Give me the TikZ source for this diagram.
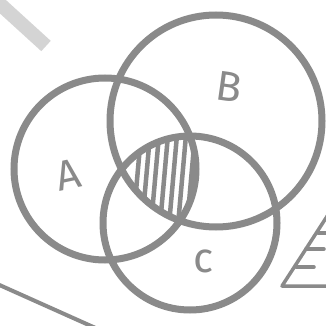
\documentclass[tikz,border=0pt]{standalone}
\usepackage{fontspec}
\setmainfont{Fira Sans}
\begin{document}
\begin{tikzpicture}[x=1pt,y=-1pt,
  ring/.style={draw=ink,line width=7pt},
  lbl/.style={text=ink,font=\fontsize{42}{42}\selectfont},
  hatch/.style={draw=ink,line width=4.5pt}]
\definecolor{ink}{HTML}{8A8A8A}
\definecolor{pale}{HTML}{D4D4D4}
\useasboundingbox (0,0) rectangle (326,326);
\fill[white] (0,0) rectangle (326,326);
% decorative strokes
\draw[pale,line width=14pt] (-10,-5) -- (46,46);
\draw[ink,line width=4pt] (-5,283) -- (100,330);
\draw[ink,line width=3.5pt,line join=round] (335,204) -- (282,286) -- (330,286);
\draw[ink,line width=3.5pt,line cap=round] (318,233) -- (330,233);
\draw[ink,line width=3.5pt,line cap=round] (306,249) -- (324,249);
\draw[ink,line width=3.5pt,line cap=round] (296,267) -- (314,267);
% hatching in A∩B∩C
\begin{scope}
  \clip (105,169) circle (91);
  \clip (216,121) circle (106);
  \clip (190,223) circle (87);
  \foreach \x in {137,146,155,164,173,182,191}
    \draw[hatch] (\x+4,135) -- (\x-4,225);
\end{scope}
% circles
\node[ring,circle,minimum size=182pt,inner sep=0pt] (A) at (105,169) {};
\node[ring,circle,minimum size=212pt,inner sep=0pt] (B) at (216,121) {};
\node[ring,circle,minimum size=174pt,inner sep=0pt] (C) at (190,223) {};
% labels
\node[lbl,rotate=12] (la) at (68,175) {A};
\node[lbl,rotate=-8] (lb) at (229,87) {B};
\node[lbl] (lc) at (204,261) {c};
\end{tikzpicture}
\end{document}
